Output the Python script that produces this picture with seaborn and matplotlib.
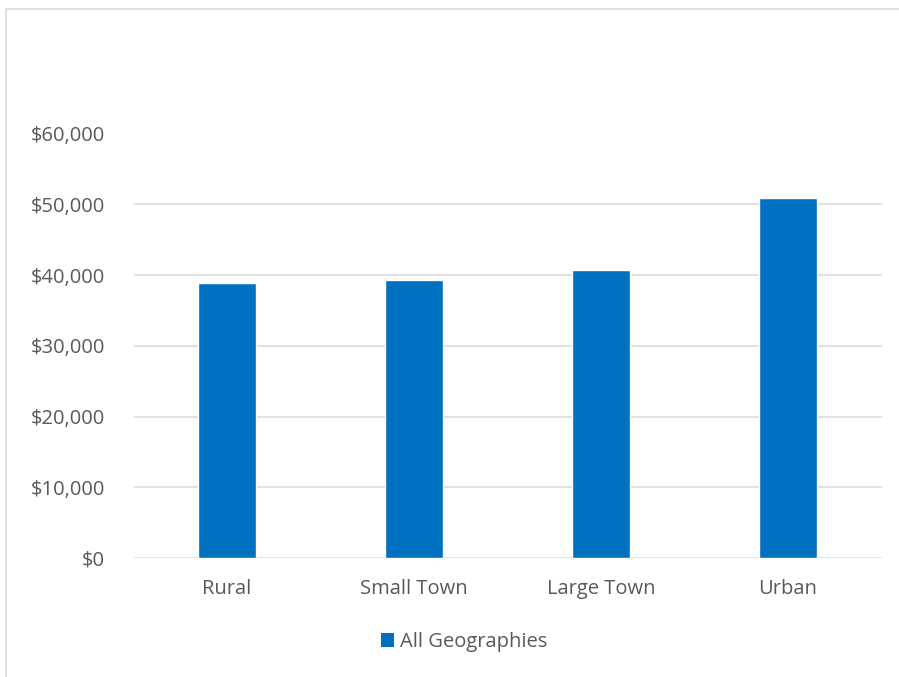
import matplotlib
matplotlib.use("Agg")
import matplotlib.pyplot as plt
from matplotlib.patches import Rectangle, Patch
from matplotlib.ticker import FuncFormatter
import seaborn as sns
import pandas as pd

categories = ["Rural", "Small Town", "Large Town", "Urban"]
values = [38800, 39300, 40700, 50900]
series_name = "All Geographies"
y_ticks = [0, 10000, 20000, 30000, 40000, 50000, 60000]

bar_color = "#0070C0"
text_color = "#595959"
grid_color = "#D9D9D9"

sns.set_theme(style="white")
plt.rcParams["font.family"] = ["Open Sans", "DejaVu Sans"]

W, H = 899, 677
fig = plt.figure(figsize=(W / 100, H / 100), dpi=100)
ax = fig.add_axes([133.5 / W, 1 - 558 / H, (881.5 - 133.5) / W, (558 - 133.5) / H])

df = pd.DataFrame({"Geography": categories, "Value": values})
sns.barplot(data=df, x="Geography", y="Value", color=bar_color, width=0.31,
            saturation=1, ax=ax, zorder=3)

ax.set_ylim(0, 60000)
ax.set_xlim(-0.5, len(categories) - 0.5)
ax.set_yticks(y_ticks)
ax.yaxis.set_major_formatter(FuncFormatter(lambda v, _: f"${v:,.0f}"))
ax.grid(axis="y", color=grid_color, linewidth=1.1, zorder=0)
ax.grid(axis="x", visible=False)
for s in ax.spines.values():
    s.set_visible(False)
ax.tick_params(axis="both", length=0, labelsize=14.5, colors=text_color)
ax.tick_params(axis="y", pad=20.5)
ax.tick_params(axis="x", pad=15)
ax.set_xlabel("")
ax.set_ylabel("")

handle = Patch(facecolor=bar_color, edgecolor="none", label=series_name)
fig.legend(handles=[handle], loc="center", bbox_to_anchor=(464 / W, 1 - 642 / H),
           frameon=False, fontsize=14.5, labelcolor=text_color,
           handlelength=0.65, handleheight=0.65, handletextpad=0.3)

# chart area border
fig.patches.append(Rectangle((5.5 / W, -0.1), 1.1, 1 - 8.5 / H + 0.1,
                             transform=fig.transFigure, fill=False,
                             edgecolor=grid_color, linewidth=1.2))

fig.savefig("out.png", dpi=100)
